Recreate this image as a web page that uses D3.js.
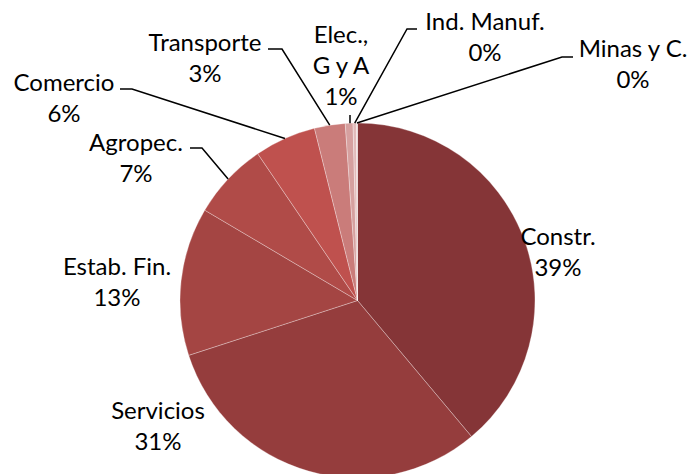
<!DOCTYPE html>
<html>
<head>
<meta charset="utf-8">
<script src="https://cdn.jsdelivr.net/npm/d3@7"></script>
<style>
  body { margin: 0; background: #fff; }
  svg { display: block; }
  text { font-family: Lato, "Open Sans", sans-serif; font-size: 24px; fill: #000; }
</style>
</head>
<body>
<svg id="chart"></svg>
<script>
const sectors = ["Constr.", "Servicios", "Estab. Fin.", "Agropec.", "Comercio", "Transporte", "Elec.,\nG y A", "Ind. Manuf.", "Minas y C."];
const shares = [38.9, 31.1, 13.5, 7.0, 5.6, 2.8, 0.7, 0.3, 0.1];
const pctLabels = ["39%", "31%", "13%", "7%", "6%", "3%", "1%", "0%", "0%"];
const colors = ["#853537", "#953d3d", "#a44543", "#b04b48", "#bf514e", "#ca7c7a", "#d6a09f", "#e2bab9", "#eed3d2"];

// where each label sits (center x, first baseline) and its leader elbow
const labelPos = [
  { x: 558, y: 245 },
  { x: 158, y: 419 },
  { x: 117, y: 275 },
  { x: 136, y: 151 },
  { x: 64, y: 91 },
  { x: 205, y: 51 },
  { x: 341, y: 43 },
  { x: 485, y: 30 },
  { x: 633, y: 57 }
];
const leaders = [
  null,
  null,
  null,
  [[190, 148], [202, 148]],
  [[120, 89], [132, 89]],
  [[268, 49], [282, 49]],
  [[350, 115]],
  [[417, 29], [407, 29]],
  [[573, 57], [562, 57]]
];

const width = 688, height = 474;
const cx = 357.5, cy = 300.5, r = 177.5;
const lineGap = 31;

const svg = d3.select("#chart").attr("width", width).attr("height", height);

const pie = d3.pie().sort(null).value((d) => d);
const arcs = pie(shares);
const arc = d3.arc().innerRadius(0).outerRadius(r);

const g = svg.append("g").attr("transform", `translate(${cx},${cy})`);

g.selectAll("path.slice")
  .data(arcs)
  .join("path")
  .attr("class", "slice")
  .attr("d", arc)
  .attr("fill", (d, i) => colors[i])
  .attr("stroke", "#ffffff")
  .attr("stroke-opacity", 0.5)
  .attr("stroke-width", 0.6);

// leader lines from slice edge to label
const edgePoint = (d) => {
  const a = (d.startAngle + d.endAngle) / 2;
  return [cx + r * Math.sin(a), cy - r * Math.cos(a)];
};

arcs.forEach((d, i) => {
  if (!leaders[i]) return;
  const pts = leaders[i].concat([edgePoint(d)]);
  if (i === 6) pts[1] = [pts[0][0], pts[1][1]];
  svg.append("path")
    .attr("d", d3.line()(pts))
    .attr("fill", "none")
    .attr("stroke", "#000")
    .attr("stroke-width", 1.5);
});

const labels = svg.selectAll("text.lbl")
  .data(arcs)
  .join("text")
  .attr("class", "lbl")
  .attr("text-anchor", "middle");

labels.each(function (d, i) {
  const lines = sectors[i].split("\n").concat([pctLabels[i]]);
  const t = d3.select(this);
  lines.forEach((s, k) => {
    t.append("tspan")
      .attr("x", labelPos[i].x)
      .attr("y", labelPos[i].y + k * lineGap)
      .text(s);
  });
});
</script>
</body>
</html>
